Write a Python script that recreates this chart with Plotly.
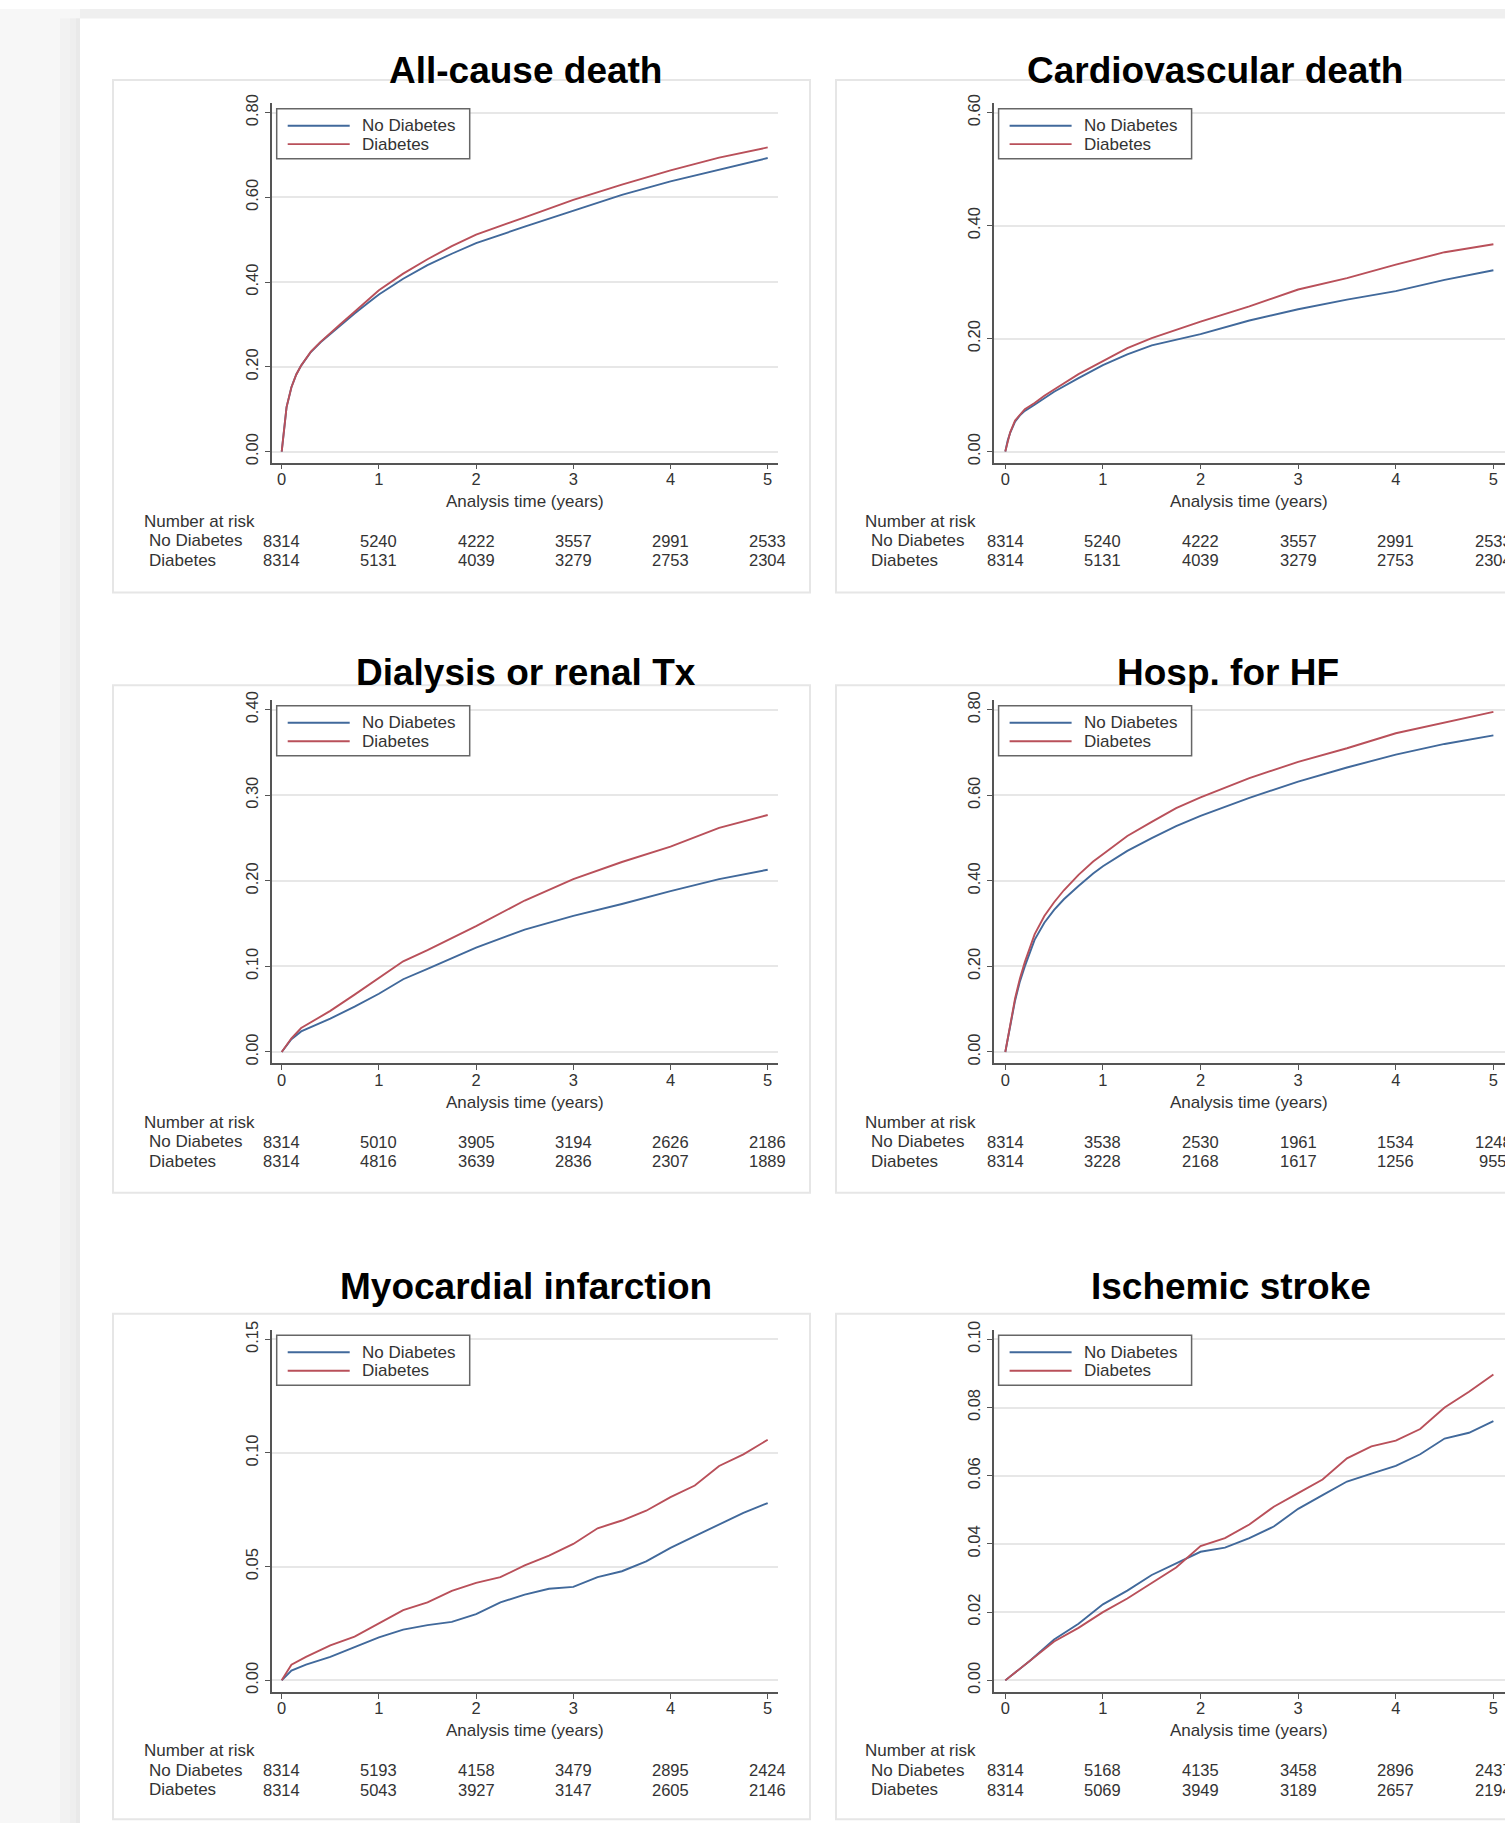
import plotly.graph_objects as go

W, H = 1505, 1826

# ---------------- data ----------------
SERIES_NAMES = ["No Diabetes", "Diabetes"]
YEAR_TICKS = [0, 1, 2, 3, 4, 5]

titles = ["All-cause death", "Cardiovascular death", "Dialysis or renal Tx",
          "Hosp. for HF", "Myocardial infarction", "Ischemic stroke"]

t_allcause = [0, 0.025, 0.05, 0.1, 0.15, 0.2, 0.25, 0.3, 0.4, 0.5, 0.6, 0.75, 0.9, 1, 1.25, 1.5, 1.75,
              2, 2.5, 3, 3.5, 4, 4.5, 5]
allcause_nd = [0, 0.06, 0.105, 0.152, 0.182, 0.203, 0.22, 0.235, 0.258, 0.278, 0.298, 0.326, 0.353, 0.371,
               0.408, 0.44, 0.467, 0.492, 0.531, 0.569, 0.606, 0.638, 0.666, 0.693]
allcause_d = [0, 0.06, 0.105, 0.152, 0.182, 0.203, 0.22, 0.236, 0.259, 0.28, 0.3, 0.33, 0.361, 0.381,
              0.42, 0.454, 0.485, 0.512, 0.553, 0.594, 0.63, 0.664, 0.694, 0.718]

t_cv = [0, 0.025, 0.05, 0.1, 0.15, 0.2, 0.3, 0.4, 0.5, 0.75, 1, 1.25, 1.5, 2, 2.5, 3, 3.5, 4, 4.5, 5]
cv_nd = [0, 0.02, 0.033, 0.053, 0.064, 0.072, 0.083, 0.095, 0.106, 0.13, 0.153, 0.172, 0.188, 0.208,
         0.232, 0.252, 0.269, 0.284, 0.304, 0.321]
cv_d = [0, 0.02, 0.034, 0.055, 0.066, 0.075, 0.086, 0.099, 0.11, 0.137, 0.16, 0.183, 0.201, 0.23,
        0.257, 0.287, 0.307, 0.331, 0.353, 0.367]

t_dial = [0, 0.1, 0.2, 0.5, 0.75, 1, 1.25, 1.5, 2, 2.5, 3, 3.5, 4, 4.5, 5]
dial_nd = [0, 0.015, 0.024, 0.039, 0.053, 0.068, 0.085, 0.097, 0.122, 0.143, 0.159, 0.173, 0.188, 0.202, 0.213]
dial_d = [0, 0.016, 0.028, 0.048, 0.067, 0.086, 0.106, 0.119, 0.147, 0.177, 0.202, 0.222, 0.24, 0.262, 0.277]

t_hf = [0, 0.05, 0.1, 0.15, 0.2, 0.3, 0.4, 0.5, 0.6, 0.75, 0.9, 1, 1.25, 1.5, 1.75, 2, 2.5, 3, 3.5, 4, 4.5, 5]
hf_nd = [0, 0.065, 0.12, 0.165, 0.2, 0.262, 0.302, 0.332, 0.357, 0.388, 0.417, 0.434, 0.47, 0.5, 0.528,
         0.552, 0.594, 0.632, 0.665, 0.695, 0.72, 0.74]
hf_d = [0, 0.067, 0.125, 0.172, 0.21, 0.275, 0.318, 0.35, 0.378, 0.414, 0.445, 0.462, 0.505, 0.538, 0.57,
        0.595, 0.64, 0.678, 0.71, 0.745, 0.77, 0.795]

t_mi = [0, 0.1, 0.25, 0.5, 0.75, 1, 1.25, 1.5, 1.75, 2, 2.25, 2.5, 2.75, 3, 3.25, 3.5, 3.75, 4, 4.25, 4.5, 4.75, 5]
mi_nd = [0, 0.0043, 0.0069, 0.0103, 0.0146, 0.0189, 0.0223, 0.0243, 0.0257, 0.0291, 0.0343, 0.0377, 0.0403,
         0.0411, 0.0454, 0.048, 0.0523, 0.0583, 0.0634, 0.0686, 0.0737, 0.078]
mi_d = [0, 0.0069, 0.0103, 0.0154, 0.0192, 0.0249, 0.0309, 0.0343, 0.0394, 0.0429, 0.0454, 0.0506, 0.0549,
        0.06, 0.0669, 0.0703, 0.0746, 0.0806, 0.0857, 0.0943, 0.0994, 0.1058]

t_stroke = [0, 0.1, 0.25, 0.5, 0.75, 1, 1.25, 1.5, 1.75, 2, 2.25, 2.5, 2.75, 3, 3.25, 3.5, 3.75, 4, 4.25, 4.5, 4.75, 5]
stroke_nd = [0, 0.0023, 0.0057, 0.012, 0.0166, 0.0223, 0.0263, 0.0309, 0.0343, 0.0377, 0.0389, 0.0417, 0.0451,
             0.0503, 0.0543, 0.0583, 0.0606, 0.0629, 0.0663, 0.0709, 0.0726, 0.076]
stroke_d = [0, 0.0023, 0.0057, 0.0114, 0.0154, 0.02, 0.024, 0.0286, 0.0331, 0.0394, 0.0417, 0.0457, 0.0509,
            0.0549, 0.0589, 0.0651, 0.0686, 0.0703, 0.0737, 0.08, 0.0846, 0.0897]

risk_allcause_nd = [8314, 5240, 4222, 3557, 2991, 2533]
risk_allcause_d = [8314, 5131, 4039, 3279, 2753, 2304]
risk_cv_nd = [8314, 5240, 4222, 3557, 2991, 2533]
risk_cv_d = [8314, 5131, 4039, 3279, 2753, 2304]
risk_dial_nd = [8314, 5010, 3905, 3194, 2626, 2186]
risk_dial_d = [8314, 4816, 3639, 2836, 2307, 1889]
risk_hf_nd = [8314, 3538, 2530, 1961, 1534, 1248]
risk_hf_d = [8314, 3228, 2168, 1617, 1256, 955]
risk_mi_nd = [8314, 5193, 4158, 3479, 2895, 2424]
risk_mi_d = [8314, 5043, 3927, 3147, 2605, 2146]
risk_stroke_nd = [8314, 5168, 4135, 3458, 2896, 2437]
risk_stroke_d = [8314, 5069, 3949, 3189, 2657, 2194]

ytick_allcause = [0, 0.2, 0.4, 0.6, 0.8]
ytick_cv = [0, 0.2, 0.4, 0.6]
ytick_dial = [0, 0.1, 0.2, 0.3, 0.4]
ytick_hf = [0, 0.2, 0.4, 0.6, 0.8]
ytick_mi = [0, 0.05, 0.10, 0.15]
ytick_stroke = [0, 0.02, 0.04, 0.06, 0.08, 0.10]

# ---------------- layout geometry (pixels measured on the reference) ----------------
BLUE = "#41699b"
RED = "#b9505a"
AXC = "#555555"
FONT = "Liberation Sans, Arial, Helvetica, sans-serif"

cols = [dict(axis=271.7, x0=281.7, x5=767.7, end=778, lab=142, row=147, box=(113, 810)),
        dict(axis=993.6, x0=1005.3, x5=1493.4, end=W, lab=863, row=869, box=(836, 1580))]
rows = [dict(y0=451, ttop=111.8, top=102.5, line=462, box=(79, 592)),
        dict(y0=1052, ttop=709.4, top=700, line=1063.5, box=(685, 1193)),
        dict(y0=1681, ttop=1339.6, top=1330, line=1692.5, box=(1314, 1820))]

panels = [
    dict(title=titles[0], tx=525, ty=70, t=t_allcause, nd=allcause_nd, d=allcause_d,
         rnd=risk_allcause_nd, rd=risk_allcause_d, yt=ytick_allcause, c=0, r=0),
    dict(title=titles[1], tx=1215, ty=70, t=t_cv, nd=cv_nd, d=cv_d,
         rnd=risk_cv_nd, rd=risk_cv_d, yt=ytick_cv, c=1, r=0),
    dict(title=titles[2], tx=526, ty=672, t=t_dial, nd=dial_nd, d=dial_d,
         rnd=risk_dial_nd, rd=risk_dial_d, yt=ytick_dial, c=0, r=1),
    dict(title=titles[3], tx=1228, ty=672, t=t_hf, nd=hf_nd, d=hf_d,
         rnd=risk_hf_nd, rd=risk_hf_d, yt=ytick_hf, c=1, r=1),
    dict(title=titles[4], tx=526, ty=1287, t=t_mi, nd=mi_nd, d=mi_d,
         rnd=risk_mi_nd, rd=risk_mi_d, yt=ytick_mi, c=0, r=2),
    dict(title=titles[5], tx=1231, ty=1287, t=t_stroke, nd=stroke_nd, d=stroke_d,
         rnd=risk_stroke_nd, rd=risk_stroke_d, yt=ytick_stroke, c=1, r=2),
]

# vertical correction observed between page pixels and the photographed picture
VOFF, VSCALE = 8.0, 0.9944


def Y(y):
    return (y - VOFF) / VSCALE


def px(x):
    return x / W


def py(y):
    return 1 - Y(y) / H


fig = go.Figure()
layout = dict(width=W, height=H, margin=dict(l=0, r=0, t=0, b=0),
              paper_bgcolor="white", plot_bgcolor="rgba(0,0,0,0)",
              showlegend=False, font=dict(family=FONT, color="#222222"))
shapes = []
annotations = []

# page background: light grey strip on top and a soft shadow on the left of the card
shapes.append(dict(type="rect", xref="paper", yref="paper", x0=0, x1=1, y0=py(17.5), y1=1,
                   fillcolor="#efefef", line=dict(width=0), layer="below"))
shapes.append(dict(type="rect", xref="paper", yref="paper", x0=0, x1=px(80), y0=0, y1=1,
                   fillcolor="#f7f7f7", line=dict(width=0), layer="below"))
for a, b, col in [(60, 80, "#f2f2f2"), (70, 80, "#eeeeee"), (76, 80, "#e9e9e9")]:
    shapes.append(dict(type="rect", xref="paper", yref="paper", x0=px(a), x1=px(b), y0=0, y1=py(17.5),
                       fillcolor=col, line=dict(width=0), layer="below"))

for i, p in enumerate(panels):
    c = cols[p["c"]]
    r = rows[p["r"]]
    sfx = "" if i == 0 else str(i + 1)
    T = p["yt"][-1]
    kx = (c["x5"] - c["x0"]) / 5.0
    y0, ttop, top, line = Y(r["y0"]), Y(r["ttop"]), Y(r["top"]), Y(r["line"])
    my = (y0 - ttop) / T
    xr = [(c["axis"] - c["x0"]) / kx, (c["end"] - c["x0"]) / kx]
    yr = [-(line - y0) / my, (y0 - top) / my]

    # graph-region box
    shapes.append(dict(type="rect", xref="paper", yref="paper",
                       x0=px(c["box"][0]), x1=px(c["box"][1]),
                       y0=py(r["box"][1]), y1=py(r["box"][0]),
                       fillcolor="white", line=dict(color="#e6e6e6", width=2), layer="below"))

    layout["xaxis" + sfx] = dict(
        domain=[px(c["axis"]), min(1.0, px(c["end"]))], range=xr, anchor="y" + sfx,
        tickvals=YEAR_TICKS, ticktext=[str(v) for v in YEAR_TICKS],
        showline=True, linecolor=AXC, linewidth=1.6, ticks="outside", ticklen=5,
        tickwidth=1.4, tickcolor=AXC, showgrid=False, zeroline=False, ticklabelstandoff=-4,
        tickfont=dict(size=16.5, color="#333333"), fixedrange=True)
    layout["yaxis" + sfx] = dict(
        domain=[1 - line / H, 1 - top / H], range=yr, anchor="x" + sfx,
        tickvals=p["yt"], tickformat=".2f", tickangle=-90,
        showline=True, linecolor=AXC, linewidth=1.6, ticks="outside", ticklen=5,
        tickwidth=1.4, tickcolor=AXC, showgrid=True, gridcolor="#e7e7e7", gridwidth=1.5,
        zeroline=False, tickfont=dict(size=16.5, color="#333333"), fixedrange=True)

    fig.add_trace(go.Scatter(x=p["t"], y=p["nd"], mode="lines", name=SERIES_NAMES[0],
                             line=dict(color=BLUE, width=1.9), xaxis="x" + sfx, yaxis="y" + sfx))
    fig.add_trace(go.Scatter(x=p["t"], y=p["d"], mode="lines", name=SERIES_NAMES[1],
                             line=dict(color=RED, width=1.9), xaxis="x" + sfx, yaxis="y" + sfx))

    # title
    annotations.append(dict(text="<b>%s</b>" % p["title"], xref="paper", yref="paper",
                            x=px(p["tx"]), y=py(p["ty"]), xanchor="center", yanchor="middle",
                            showarrow=False, font=dict(size=37, color="black", family=FONT)))
    # x-axis title
    annotations.append(dict(text="Analysis time (years)", xref="x" + sfx, yref="paper",
                            x=2.5, y=py(r["line"] + 39), xanchor="center", yanchor="middle",
                            showarrow=False, font=dict(size=17, color="#333333")))
    # number at risk table
    annotations.append(dict(text="Number at risk", xref="paper", yref="paper",
                            x=px(c["lab"]), y=py(r["line"] + 59), xanchor="left", yanchor="middle",
                            showarrow=False, font=dict(size=17, color="#333333")))
    for k, (nm, vals) in enumerate([(SERIES_NAMES[0], p["rnd"]), (SERIES_NAMES[1], p["rd"])]):
        yy = py(r["line"] + 78.5 + 19.5 * k)
        annotations.append(dict(text=nm, xref="paper", yref="paper", x=px(c["row"]), y=yy,
                                xanchor="left", yanchor="middle", showarrow=False,
                                font=dict(size=17, color="#333333")))
        for tv, v in zip(YEAR_TICKS, vals):
            annotations.append(dict(text=str(v), xref="x" + sfx, yref="paper", x=tv, y=yy,
                                    xanchor="center", yanchor="middle", showarrow=False,
                                    font=dict(size=16.5, color="#333333")))

    # legend box (drawn inside the plot, top-left)
    bl = c["axis"] + 5
    bt = r["ttop"] - 4
    shapes.append(dict(type="rect", xref="paper", yref="paper", x0=px(bl), x1=px(bl + 193),
                       y0=py(bt + 50), y1=py(bt), fillcolor="white",
                       line=dict(color="#666666", width=1.5)))
    for k, colr in enumerate([BLUE, RED]):
        yy = bt + 17 + 18.5 * k
        shapes.append(dict(type="line", xref="paper", yref="paper", x0=px(bl + 11), x1=px(bl + 73),
                           y0=py(yy), y1=py(yy), line=dict(color=colr, width=1.9)))
        annotations.append(dict(text=SERIES_NAMES[k], xref="paper", yref="paper", x=px(bl + 83),
                                y=py(yy), xanchor="left", yanchor="middle", showarrow=False,
                                font=dict(size=17, color="#333333")))

layout["shapes"] = shapes
layout["annotations"] = annotations
fig.update_layout(**layout)

fig.write_html("out.html", include_plotlyjs=True, full_html=True,
               config={"displayModeBar": False},
               post_script="document.body.style.margin='0';document.body.style.overflow='hidden';")
